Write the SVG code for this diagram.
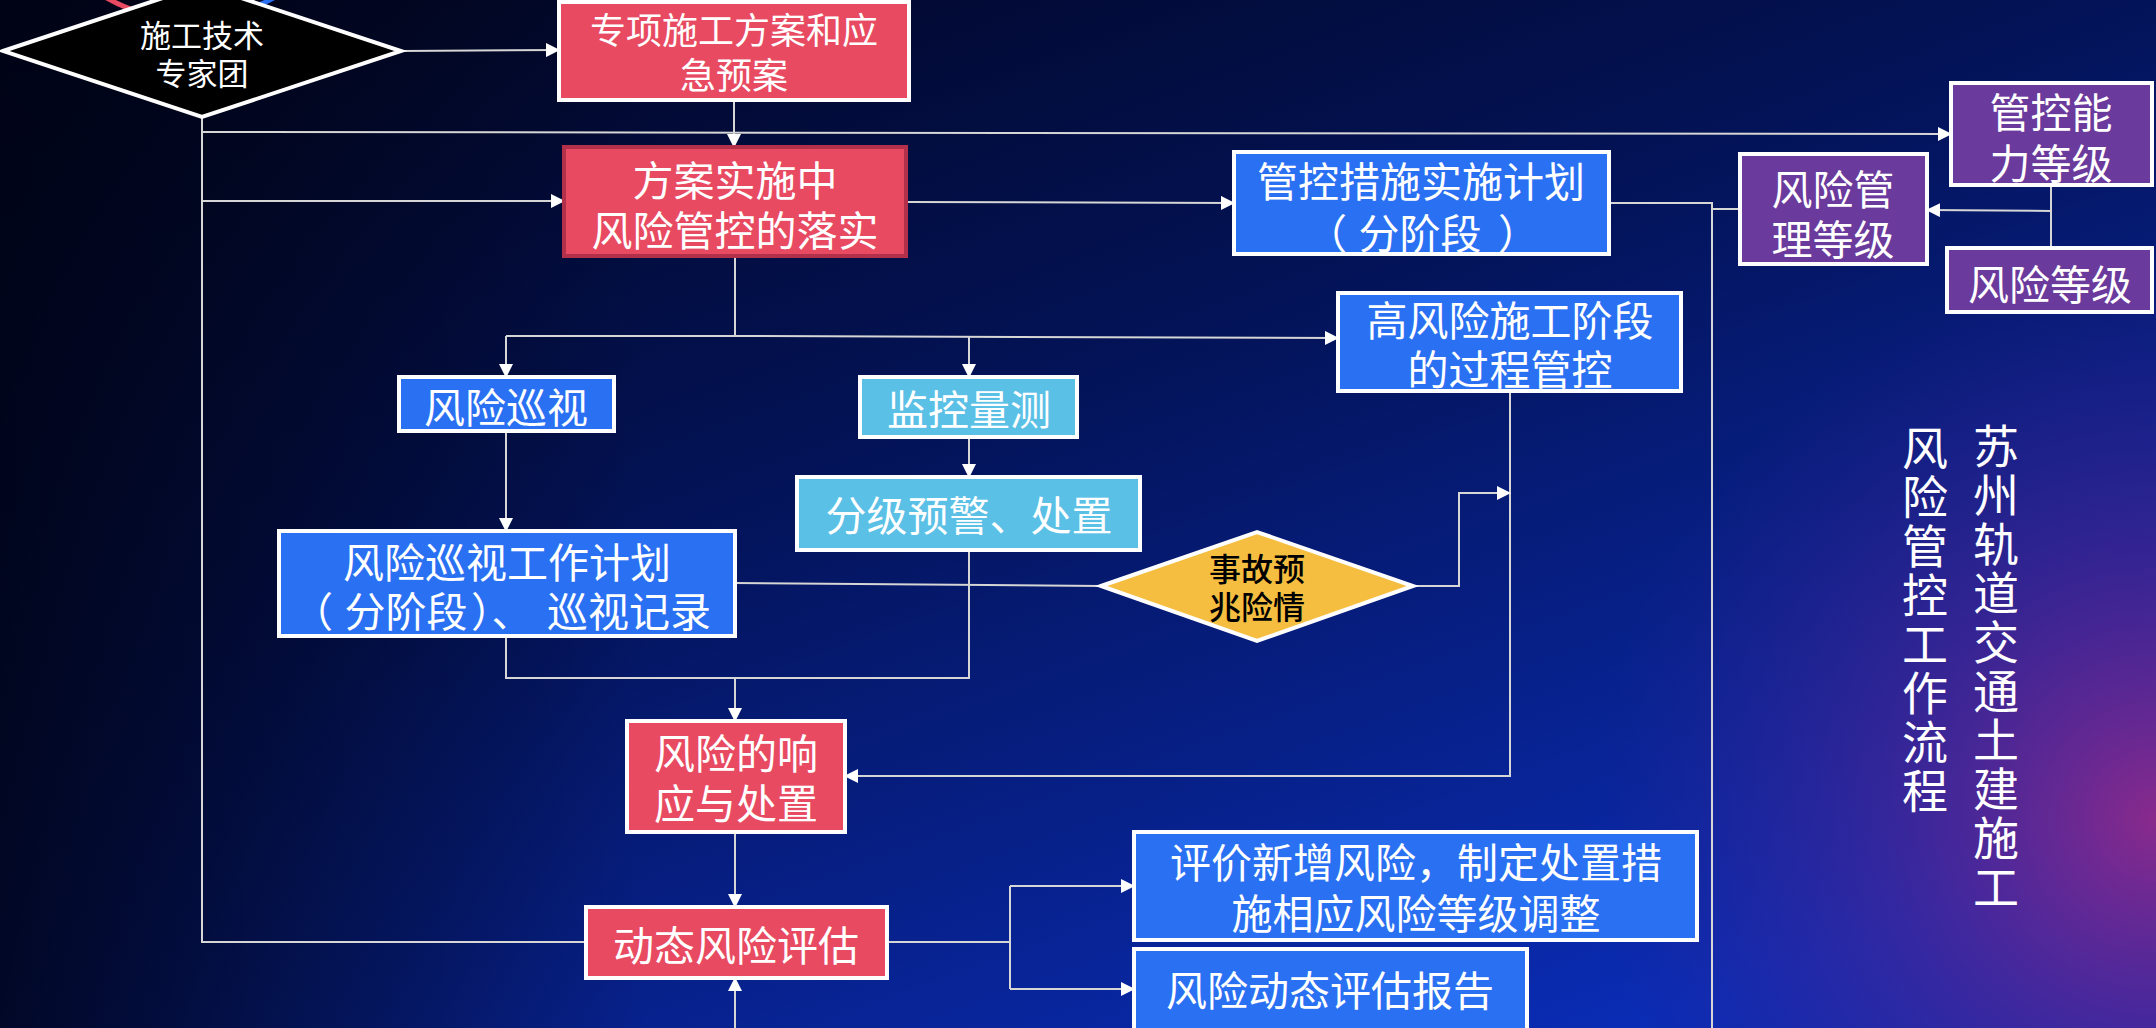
<svg xmlns="http://www.w3.org/2000/svg" width="2156" height="1028" viewBox="0 0 2156 1028">
<defs>
<linearGradient id="bg" x1="0" y1="0" x2="0.75" y2="1">
<stop offset="0" stop-color="#01041a"/>
<stop offset="0.45" stop-color="#031254"/>
<stop offset="1" stop-color="#0a2cb4"/>
</linearGradient>
<radialGradient id="purple" cx="2156" cy="820" r="560" gradientUnits="userSpaceOnUse">
<stop offset="0" stop-color="#902a8a" stop-opacity="0.95"/>
<stop offset="0.5" stop-color="#5a2490" stop-opacity="0.5"/>
<stop offset="1" stop-color="#3a2090" stop-opacity="0"/>
</radialGradient>
<linearGradient id="leftdark" x1="0" y1="0" x2="1" y2="0">
<stop offset="0" stop-color="#000314" stop-opacity="0.8"/>
<stop offset="0.3" stop-color="#000314" stop-opacity="0"/>
</linearGradient>
<marker id="arr" markerUnits="userSpaceOnUse" markerWidth="14" markerHeight="14" refX="13" refY="7" orient="auto">
<path d="M0,0 L14,7 L0,14 z" fill="#ffffff"/>
</marker>
<style>
.red{fill:#e84a62;stroke:#ffffff;stroke-width:4}
.red2{fill:#e84a62;stroke:#b2304a;stroke-width:4}
.blue{fill:#2a70f2;stroke:#ffffff;stroke-width:4}
.lblue{fill:#5bc0e6;stroke:#ffffff;stroke-width:4}
.purp{fill:#6a3a9c;stroke:#ffffff;stroke-width:4}
.t{font-family:"Noto Sans CJK SC","Noto Sans",sans-serif;fill:#ffffff;text-anchor:middle;dominant-baseline:central;font-size:41px}
.s{text-anchor:start}
.e{text-anchor:end}
.tk{font-family:"Noto Sans CJK SC","Noto Sans",sans-serif;fill:#000000;text-anchor:middle;dominant-baseline:central;font-size:32px;font-weight:500}
.v{font-family:"Noto Sans CJK SC","Noto Sans",sans-serif;fill:#ffffff;font-size:46px;writing-mode:vertical-rl;letter-spacing:3px}
.c{fill:none;stroke:#d6d6d6;stroke-width:2}
.ca{fill:none;stroke:#d6d6d6;stroke-width:2;marker-end:url(#arr)}
</style>
</defs>
<rect x="0" y="0" width="2156" height="1028" fill="url(#bg)"/>
<rect x="0" y="0" width="2156" height="1028" fill="url(#purple)"/>
<rect x="0" y="0" width="2156" height="1028" fill="url(#leftdark)"/>

<g id="decor">
<path d="M100,-6 A170,170 0 0 0 150,15" fill="none" stroke="#e84a62" stroke-width="5"/>
<path d="M240,12 A170,170 0 0 0 285,-9" fill="none" stroke="#2a70f2" stroke-width="5"/>
</g>

<g id="connectors">
<line class="ca" x1="401" y1="51" x2="559" y2="50"/>
<line class="ca" x1="734" y1="100" x2="734" y2="147"/>
<polyline class="c" points="202,117 202,942 586,942"/>
<line class="ca" x1="202" y1="132" x2="1951" y2="134"/>
<line class="ca" x1="202" y1="201" x2="564" y2="201"/>
<line class="ca" x1="906" y1="202" x2="1234" y2="203"/>
<polyline class="c" points="1609,203 1712,203 1712,1028"/>
<line class="c" x1="1712" y1="209" x2="1740" y2="209"/>
<line class="c" x1="2051" y1="185" x2="2051" y2="248"/>
<line class="ca" x1="2051" y1="211" x2="1927" y2="210"/>
<polyline class="c" points="735,256 735,336 506,336"/>
<line class="ca" x1="735" y1="336" x2="1338" y2="338"/>
<line class="ca" x1="506" y1="336" x2="506" y2="377"/>
<line class="ca" x1="969" y1="337" x2="969" y2="377"/>
<line class="ca" x1="506" y1="431" x2="506" y2="531"/>
<line class="ca" x1="969" y1="437" x2="969" y2="477"/>
<line class="c" x1="735" y1="583" x2="1101" y2="586"/>
<polyline class="c" points="506,636 506,678 969,678 969,550"/>
<line class="ca" x1="735" y1="678" x2="735" y2="721"/>
<polyline class="ca" points="1510,391 1510,776 845,776"/>
<polyline class="ca" points="1413,586 1459,586 1459,493 1510,493"/>
<line class="ca" x1="735" y1="832" x2="735" y2="907"/>
<line class="ca" x1="735" y1="1028" x2="735" y2="978"/>
<polyline class="c" points="887,942 1010,942"/>
<line class="c" x1="1010" y1="886" x2="1010" y2="989"/>
<line class="ca" x1="1010" y1="886" x2="1134" y2="886"/>
<line class="ca" x1="1010" y1="989" x2="1134" y2="989"/>
</g>

<g id="n-expert">
<polygon points="3,51 202,-15 401,51 202,117" fill="#000000" stroke="#ffffff" stroke-width="4"/>
<text class="t" style="font-size:31px" x="202" y="33">施工技术</text>
<text class="t" style="font-size:31px" x="202" y="71">专家团</text>
</g>
<g id="n-plan">
<rect class="red" x="559" y="2" width="350" height="98"/>
<text class="t" style="font-size:36px" x="734" y="28">专项施工方案和应</text>
<text class="t" style="font-size:36px" x="734" y="73">急预案</text>
</g>
<g id="n-implement">
<rect class="red2" x="564" y="147" width="342" height="109"/>
<text class="t" x="735" y="178">方案实施中</text>
<text class="t" x="735" y="228">风险管控的落实</text>
</g>
<g id="n-measures">
<rect class="blue" x="1234" y="152" width="375" height="102"/>
<text class="t" x="1421" y="179">管控措施实施计划</text>
<text class="t e" x="1347" y="231">（</text>
<text class="t" x="1420" y="231">分阶段</text>
<text class="t s" x="1498" y="231">）</text>
</g>
<g id="n-capability">
<rect class="purp" x="1951" y="83" width="201" height="102"/>
<text class="t" x="2051" y="110">管控能</text>
<text class="t" x="2051" y="161">力等级</text>
</g>
<g id="n-mgmtlevel">
<rect class="purp" x="1740" y="154" width="187" height="110"/>
<text class="t" x="1833" y="187">风险管</text>
<text class="t" x="1833" y="237">理等级</text>
</g>
<g id="n-risklevel">
<rect class="purp" x="1947" y="248" width="205" height="64"/>
<text class="t" x="2050" y="282">风险等级</text>
</g>
<g id="n-patrol">
<rect class="blue" x="399" y="377" width="215" height="54"/>
<text class="t" x="506" y="405">风险巡视</text>
</g>
<g id="n-monitor">
<rect class="lblue" x="860" y="377" width="217" height="60"/>
<text class="t" x="969" y="407">监控量测</text>
</g>
<g id="n-highrisk">
<rect class="blue" x="1338" y="293" width="343" height="98"/>
<text class="t" x="1510" y="318">高风险施工阶段</text>
<text class="t" x="1510" y="367">的过程管控</text>
</g>
<g id="n-patrolplan">
<rect class="blue" x="279" y="531" width="456" height="105"/>
<text class="t" x="507" y="560">风险巡视工作计划</text>
<text class="t e" x="333" y="609">（</text>
<text class="t" x="406" y="609">分阶段</text>
<text class="t s" x="471" y="609">）、</text>
<text class="t" x="629" y="609">巡视记录</text>
</g>
<g id="n-warning">
<rect class="lblue" x="797" y="477" width="343" height="73"/>
<text class="t" x="969" y="513">分级预警、处置</text>
</g>
<g id="n-omen">
<polygon points="1101,586 1257,532 1413,586 1257,641" fill="#f5be41" stroke="#ffffff" stroke-width="4"/>
<text class="tk" x="1257" y="567">事故预</text>
<text class="tk" x="1257" y="605">兆险情</text>
</g>
<g id="n-response">
<rect class="red" x="627" y="721" width="218" height="111"/>
<text class="t" x="736" y="751">风险的响</text>
<text class="t" x="736" y="801">应与处置</text>
</g>
<g id="n-dynamic">
<rect class="red" x="586" y="907" width="301" height="71"/>
<text class="t" x="736" y="943">动态风险评估</text>
</g>
<g id="n-evaluate">
<rect class="blue" x="1134" y="832" width="563" height="108"/>
<text class="t" x="1416" y="860">评价新增风险，制定处置措</text>
<text class="t" x="1416" y="911">施相应风险等级调整</text>
</g>
<g id="n-report">
<rect class="blue" x="1134" y="949" width="393" height="92"/>
<text class="t" x="1330" y="988">风险动态评估报告</text>
</g>
<g id="title">
<text class="v" x="1925" y="425">风险管控工作流程</text>
<text class="v" x="1996" y="423">苏州轨道交通土建施工</text>
</g>
</svg>
